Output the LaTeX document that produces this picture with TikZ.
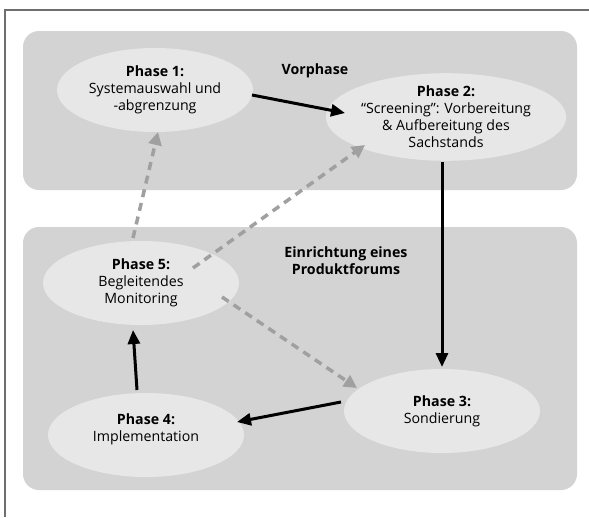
\documentclass[tikz,border=0pt]{standalone}
\usepackage{fontspec}
\setmainfont{Open Sans}
\usetikzlibrary{arrows.meta,shapes.geometric}
\definecolor{panelgray}{RGB}{211,211,211}
\definecolor{bubble}{RGB}{231,231,231}
\definecolor{dashgray}{RGB}{160,160,160}
\definecolor{framegray}{RGB}{110,110,110}
\begin{document}
\begin{tikzpicture}[x=1pt,y=-1pt,
  phase/.style={ellipse, fill=bubble, minimum width=196pt, minimum height=84pt,
    inner sep=0pt, align=center, font=\fontsize{14.2}{17}\selectfont},
  phasetext/.style={inner sep=0pt, align=center, font=\fontsize{14.2}{17}\selectfont},
  panel/.style={fill=panelgray, rounded corners=16pt},
  heading/.style={inner sep=0pt, align=center, font=\fontsize{14.2}{17}\selectfont\bfseries},
  flow/.style={line width=3pt, -{Triangle[length=14pt,width=12pt]}},
  feedback/.style={draw=dashgray, line width=3.5pt, dash pattern=on 8pt off 6pt,
    -{Triangle[length=13pt,width=13pt,fill=dashgray]}}
]
\useasboundingbox (0,0) rectangle (589,517);
\fill[white] (0,0) rectangle (589,517);

% frame lines
\draw[framegray, line width=1.3pt] (5,517) -- (5,10) -- (589,10);

% the two phase groups
\fill[panel] (23,31) rectangle (577,190);
\fill[panel] (23,227) rectangle (577,490);
\node[heading] (vorphase) at (315,71) {Vorphase};
\node[heading] (forum) at (346,261) {Einrichtung eines\\Produktforums};

% phases
\node[phase] (p1) at (155,90) {\textbf{Phase 1:}\\Systemauswahl und\\-abgrenzung};
\node[phase] (p2) at (446,117) {\textbf{Phase 2:}\\“Screening”: Vorbereitung\\\& Aufbereitung des\\Sachstands};
\node[phase] (p3) at (442,411) {\textbf{Phase 3:}\\Sondierung};
\node[phase] (p4) at (146,435) {};
\node[phasetext] (p4t) at (146,429) {\textbf{Phase 4:}\\Implementation};
\node[phase] (p5) at (141,283) {\textbf{Phase 5:}\\Begleitendes\\Monitoring};

% main sequence
\draw[flow] ([shift={(97,5)}]p1.center) -- ([shift={(-101,-4)}]p2.center);
\draw[flow] ([shift={(-4,45)}]p2.center) -- ([shift={(0,-44)}]p3.center);
\draw[flow] ([shift={(-101,-9)}]p3.center) -- ([shift={(91,-13)}]p4.center);
\draw[flow] ([shift={(-9,-45)}]p4.center) -- ([shift={(-8,47)}]p5.center);

% feedback from monitoring
\draw[feedback] ([shift={(-8,-45)}]p5.center) -- ([shift={(3,42)}]p1.center);
\draw[feedback] ([shift={(52,-15)}]p5.center) -- ([shift={(-81,28)}]p2.center);
\draw[feedback] ([shift={(81,14)}]p5.center) -- ([shift={(-85,-23)}]p3.center);
\end{tikzpicture}
\end{document}
